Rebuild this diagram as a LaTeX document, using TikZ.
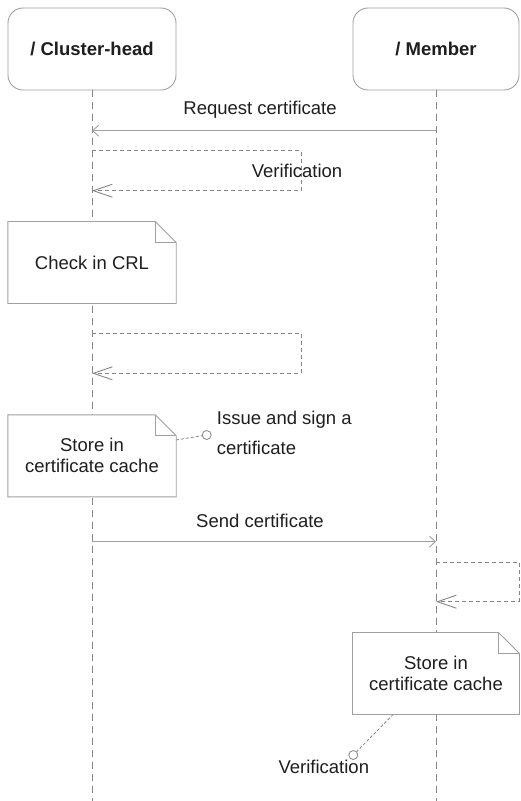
\documentclass[tikz,border=0pt]{standalone}
\usepackage{fontspec}
\setmainfont{Liberation Sans}
\usetikzlibrary{arrows.meta}
\definecolor{linegray}{HTML}{A0A0A0}
\definecolor{dashgray}{HTML}{858585}
\definecolor{ink}{HTML}{1E1E1E}
\tikzset{
  every node/.style={text=ink, font=\fontsize{18.5}{21}\selectfont},
  head/.style={draw=linegray, line width=0.9pt, rounded corners=15pt, fill=white,
    minimum height=82pt, inner sep=0pt, font=\fontsize{18.5}{21}\selectfont\bfseries},
  lifeline/.style={draw=dashgray, line width=0.9pt, dash pattern=on 7pt off 5pt},
  msg/.style={draw=linegray, line width=0.9pt, -{Straight Barb[length=6pt,width=11pt]}},
  ret/.style={draw=dashgray, line width=0.9pt, dash pattern=on 4pt off 3pt,
    -{Straight Barb[length=19pt,width=13pt]}},
  notebox/.style={inner sep=0pt, minimum height=81.6pt, align=center},
  notelink/.style={draw=dashgray, line width=0.8pt, dash pattern=on 3pt off 2pt},
  anchorpt/.style={circle, draw=dashgray, fill=white, line width=0.8pt, minimum size=9pt, inner sep=0pt},
}
% dog-eared note outline around a node
\newcommand{\dognote}[1]{%
  \draw[draw=linegray, line width=0.9pt, fill=white]
    (#1.north west) -- ([xshift=-21pt]#1.north east) -- ([yshift=-21pt]#1.north east)
    -- (#1.south east) -- (#1.south west) -- cycle;
  \draw[draw=linegray, line width=0.9pt]
    ([xshift=-21pt]#1.north east) |- ([yshift=-21pt]#1.north east);
}
\begin{document}
\begin{tikzpicture}[x=1pt, y=-1pt]
\useasboundingbox (0,0) rectangle (520,801);

% lifeline heads
\node[head, minimum width=168pt] (ch) at (92,49) {/ Cluster-head};
\node[head, minimum width=166pt] (mb) at (436,49) {/ Member};

% lifelines
\coordinate (chend) at (92,801);
\coordinate (mbend) at (436,801);
\draw[lifeline] (ch.south) -- (chend);
\draw[lifeline] (mb.south) -- (mbend);

% request certificate
\coordinate (rq1) at (436,130.7);
\coordinate (rq2) at (92,130.7);
\draw[msg] (rq1) -- (rq2);
\node (rqlbl) at (260,110) {Request certificate};

% first verification (self message)
\coordinate (v1a) at (92,150.7);
\coordinate (v1b) at (301,150.7);
\coordinate (v1c) at (301,190.7);
\coordinate (v1d) at (92,190.7);
\draw[ret] (v1a) -- (v1b) -- (v1c) -- (v1d);
\node (v1lbl) at (297,170.7) {Verification};

% check in CRL
\node[notebox, minimum width=168pt] (crl) at (92,262.5) {Check in CRL};
\dognote{crl}
\node at (crl) {Check in CRL};

% second self message
\coordinate (v2a) at (92,333.3);
\coordinate (v2b) at (301,333.3);
\coordinate (v2c) at (301,373.3);
\coordinate (v2d) at (92,373.3);
\draw[ret] (v2a) -- (v2b) -- (v2c) -- (v2d);

% store in cache (cluster-head)
\node[notebox, minimum width=168pt] (st1) at (92,455.8) {Store in\\certificate cache};
\dognote{st1}
\node[align=center] at (st1) {Store in\\certificate cache};
\node[anchorpt] (c1) at (206.7,435) {};
\coordinate (st1link) at (176,440);
\draw[notelink] (st1link) -- (c1);
\node[anchor=west, align=left, inner sep=0pt, font=\fontsize{18.5}{30}\selectfont]
  (issue) at (216.7,433) {Issue and sign a\\certificate};

% send certificate
\coordinate (sc1) at (92,541.7);
\coordinate (sc2) at (436,541.7);
\draw[msg] (sc1) -- (sc2);
\node (sclbl) at (260,520.7) {Send certificate};

% member self message
\coordinate (v3a) at (436,562.3);
\coordinate (v3b) at (519,562.3);
\coordinate (v3c) at (519,601.7);
\coordinate (v3d) at (436,601.7);
\draw[ret] (v3a) -- (v3b) -- (v3c) -- (v3d);

% store in cache (member)
\node[notebox, minimum width=166.6pt] (st2) at (436,673.5) {Store in\\certificate cache};
\dognote{st2}
\node[align=center] at (st2) {Store in\\certificate cache};
\coordinate (st2link) at (393.3,714.3);
\node[anchorpt] (c2) at (353.3,755) {};
\draw[notelink] (st2link) -- (c2);
\node (v3lbl) at (323.8,766.7) {Verification};
\end{tikzpicture}
\end{document}
